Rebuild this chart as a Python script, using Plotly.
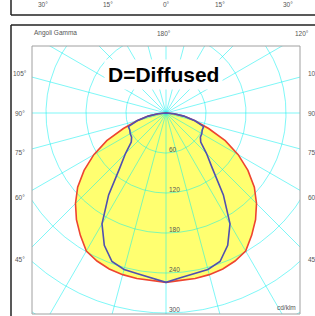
import numpy as np
import plotly.graph_objects as go

# ---- data (cd/klm vs gamma angle, degrees from nadir) ----
gamma_deg = [0, 5, 10, 15, 20, 25, 30, 35, 40, 45, 50, 55, 60, 65, 70, 75, 80, 85, 90]
plane_c0_c180 = [254, 252, 252, 251, 249, 245, 239, 224, 209, 192, 173, 150, 125, 98, 68, 45, 27, 12, 0]
plane_c90_c270 = [254, 248, 245, 243, 237, 219, 192, 150, 108, 86, 68, 63, 62, 60, 60, 45, 27, 12, 0]

radial_ticks = [60, 120, 180, 240, 300]
grid_circles = [60, 120, 180, 240, 300, 360]
side_angle_labels = [105, 90, 75, 60, 45]
prev_panel_labels = ["30°", "15°", "0°", "15°", "30°"]
title_text = "D=Diffused"

# ---- geometry (pixels) ----
W, H = 315, 316
CX, CY = 166, 113
PX_PER_UNIT = 2 / 3
L, R, T, B = 32, 300, 46, 314

def px(x):
    return x / W

def py(y):
    return 1 - y / H

xr = [(L - CX) / PX_PER_UNIT, (R - CX) / PX_PER_UNIT]
yr = [-(B - CY) / PX_PER_UNIT, (CY - T) / PX_PER_UNIT]


def to_xy(g_list, r_list):
    g = np.radians(np.array(g_list, dtype=float))
    r = np.array(r_list, dtype=float)
    return r * np.sin(g), -r * np.cos(g)


def full_curve(vals):
    g = [-a for a in gamma_deg[::-1]] + gamma_deg[1:]
    r = vals[::-1] + vals[1:]
    return to_xy(g, r)


fig = go.Figure()

rx, ry = full_curve(plane_c0_c180)
bx, by = full_curve(plane_c90_c270)

# yellow fill
fig.add_trace(go.Scatter(x=rx, y=ry, mode="lines", fill="toself",
                         fillcolor="#FFFF70", line=dict(width=0),
                         hoverinfo="skip", showlegend=False))

grid_col = "rgba(0,240,240,0.5)"
th = np.linspace(0, 360, 721)
for rc in grid_circles:
    gx, gy = to_xy(th, [rc] * len(th))
    fig.add_trace(go.Scatter(x=gx, y=gy, mode="lines",
                             line=dict(color=grid_col, width=1),
                             hoverinfo="skip", showlegend=False))
for a in range(0, 360, 15):
    gx, gy = to_xy([a, a], [0, 450])
    fig.add_trace(go.Scatter(x=gx, y=gy, mode="lines",
                             line=dict(color=grid_col, width=1),
                             hoverinfo="skip", showlegend=False))

fig.add_trace(go.Scatter(x=rx, y=ry, mode="lines",
                         line=dict(color="#EE4430", width=1.6),
                         hoverinfo="skip", showlegend=False))
fig.add_trace(go.Scatter(x=bx, y=by, mode="lines",
                         line=dict(color="#5050B0", width=1.6),
                         hoverinfo="skip", showlegend=False))

FONT = "Arial, Liberation Sans, sans-serif"
TXT = "#555555"
ann = []

def label(text, x, y, size=6.5, xanchor="center", color=TXT, **kw):
    ann.append(dict(text=text, x=px(x), y=py(y), xref="paper", yref="paper",
                    showarrow=False, xanchor=xanchor, yanchor="middle",
                    font=dict(family=FONT, size=size, color=color), **kw))

# previous panel bottom labels
for t, x in zip(prev_panel_labels, [43, 108, 166, 220, 288]):
    label(t, x, 5)

label("Angoli Gamma", 32, 33, xanchor="left")
label("180°", 164, 33)
label("120°", 302, 33)

for a in side_angle_labels:
    yv = CY + 146 / np.tan(np.radians(a))
    label(f"{a}°", 20, yv)
    label(f"{a}°", 306, yv, xanchor="left")

for v in radial_ticks:
    yv = CY + v * PX_PER_UNIT - 4
    label(str(v), 167, yv, xanchor="left")

label("cd/klm", 286, 307)
label(f"<b>{title_text}</b>", 163, 75, size=21, color="#000000",
      bgcolor="white", borderpad=3)

shapes = [
    dict(type="rect", xref="paper", yref="paper", x0=px(L), x1=px(R),
         y0=py(B), y1=py(T), line=dict(color="#A0A0A0", width=1)),
    dict(type="line", xref="paper", yref="paper", x0=px(11), x1=px(11),
         y0=py(-2), y1=py(15), line=dict(color="#222", width=1.5)),
    dict(type="line", xref="paper", yref="paper", x0=px(11), x1=px(320),
         y0=py(15), y1=py(15), line=dict(color="#222", width=1.5)),
    dict(type="line", xref="paper", yref="paper", x0=px(11), x1=px(320),
         y0=py(25), y1=py(25), line=dict(color="#222", width=1.5)),
    dict(type="line", xref="paper", yref="paper", x0=px(11), x1=px(11),
         y0=py(25), y1=py(320), line=dict(color="#222", width=1.5)),
]

fig.update_layout(
    width=W, height=H, margin=dict(l=0, r=0, t=0, b=0),
    paper_bgcolor="white", plot_bgcolor="white",
    xaxis=dict(range=xr, domain=[px(L), px(R)], visible=False, fixedrange=True),
    yaxis=dict(range=yr, domain=[py(B), py(T)], visible=False, fixedrange=True),
    annotations=ann, shapes=shapes, showlegend=False,
)

fig.write_html("out.html", config={"displayModeBar": False},
               post_script="document.body.style.margin='0';document.body.style.overflow='hidden';")
